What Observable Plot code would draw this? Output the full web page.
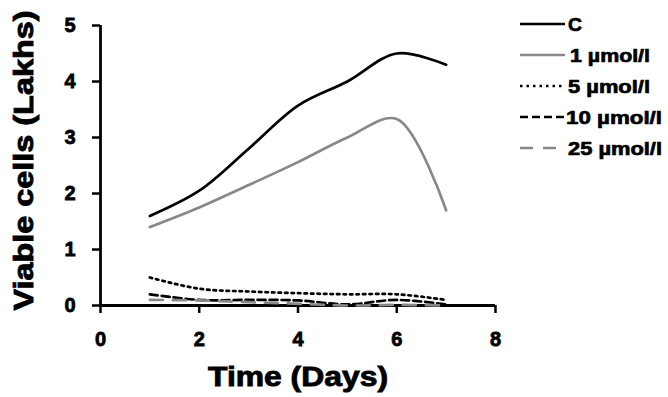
<!DOCTYPE html>
<html>
<head>
<meta charset="utf-8">
<script src="https://cdn.jsdelivr.net/npm/d3@7"></script>
<script src="https://cdn.jsdelivr.net/npm/@observablehq/plot@0.6"></script>
<style>
  html, body { margin: 0; padding: 0; background: #fff; }
  #chart { width: 668px; height: 397px; }
</style>
</head>
<body>
<div id="chart"></div>
<script>
const days = [1, 2, 3, 4, 5, 6, 7];
const seriesNames = ["C", "1 µmol/l", "5 µmol/l", "10 µmol/l", "25 µmol/l"];
const valC   = [1.6, 2.05, 2.8, 3.57, 4.0, 4.5, 4.3];
const val1   = [1.4, 1.75, 2.15, 2.56, 3.0, 3.33, 1.7];
const val5   = [0.5, 0.3, 0.25, 0.22, 0.2, 0.2, 0.1];
const val10  = [0.2, 0.1, 0.1, 0.09, 0.02, 0.1, 0.02];
const val25  = [0.1, 0.09, 0.06, 0.03, 0.0, 0.01, 0.0];
const xTicks = [0, 2, 4, 6, 8];
const yTicks = [0, 1, 2, 3, 4, 5];

const seriesValues = [valC, val1, val5, val10, val25];
const styles = [
  {stroke: "#000", dash: null},
  {stroke: "#888", dash: null},
  {stroke: "#000", dash: "2.5,4"},
  {stroke: "#000", dash: "8,4"},
  {stroke: "#888", dash: "13,10"}
];

const lineMarks = seriesValues.map((vals, i) => {
  const data = days.map((d, j) => ({day: d, v: vals[j]}));
  return Plot.lineY(data, {
    x: "day", y: "v", curve: "catmull-rom",
    stroke: styles[i].stroke, strokeWidth: 2.7,
    strokeDasharray: styles[i].dash || undefined
  });
});

const plot = Plot.plot({
  width: 668,
  height: 397,
  marginLeft: 100,
  marginRight: 173,
  marginTop: 25,
  marginBottom: 92,
  style: {fontFamily: "'Liberation Sans', Arial, sans-serif", background: "#fff"},
  x: {domain: [0, 8]},
  y: {domain: [0, 5]},
  marks: [
    Plot.axisX({ticks: xTicks, tickSize: 8, tickPadding: 18, fontSize: 20, fontWeight: "bold", strokeWidth: 2.5, label: null, tickFormat: d => String(d)}),
    Plot.axisY({ticks: yTicks, tickSize: 8, tickPadding: 17, fontSize: 20, fontWeight: "bold", strokeWidth: 2.5, label: null, tickFormat: d => String(d)}),
    Plot.ruleY([0], {x1: 0, x2: 8, stroke: "#000", strokeWidth: 2.8}),
    Plot.ruleX([0], {y1: 0, y2: 5, stroke: "#000", strokeWidth: 2.8}),
    ...lineMarks,
    Plot.text(["Time (Days)"], {frameAnchor: "bottom", dy: 80, fontSize: 28, fontWeight: "bold", fill: "#000"}),
    Plot.text(["Viable cells (Lakhs)"], {frameAnchor: "left", textAnchor: "middle", dx: -76, dy: -5, rotate: -90, fontSize: 28, fontWeight: "bold", fill: "#000"})
  ]
});

document.getElementById("chart").appendChild(plot);

// thicken tick labels and titles
const svg = d3.select(plot);
svg.selectAll("text").attr("stroke", "#000").attr("stroke-width", 0.8).attr("fill", "#000");
svg.selectAll("text").filter(function() { return this.textContent === "Time (Days)"; })
  .attr("textLength", 180).attr("lengthAdjust", "spacingAndGlyphs").attr("stroke-width", 0.9);
svg.selectAll("text").filter(function() { return this.textContent === "Viable cells (Lakhs)"; })
  .attr("textLength", 300).attr("lengthAdjust", "spacingAndGlyphs").attr("stroke-width", 0.9);

// legend
const legend = svg.append("g").attr("font-family", "'Liberation Sans', Arial, sans-serif").attr("text-anchor", "start");
const rowY = [24, 55, 86, 117, 148];
const labelX = [568, 570, 568, 566, 568];
const labelW = [14, 80, 82, 96, 94];
seriesNames.forEach((name, i) => {
  const y = rowY[i];
  const st = styles[i];
  legend.append("line")
    .attr("x1", 520).attr("x2", i === 4 ? 557 : 565).attr("y1", y).attr("y2", y)
    .attr("stroke", st.stroke).attr("stroke-width", 2.7)
    .attr("stroke-dasharray", st.dash);
  legend.append("text")
    .attr("x", labelX[i]).attr("y", y).attr("dy", "0.36em")
    .attr("text-anchor", "start")
    .attr("font-size", 19).attr("font-weight", "bold")
    .attr("textLength", labelW[i]).attr("lengthAdjust", "spacingAndGlyphs")
    .attr("fill", "#000").attr("stroke", "#000").attr("stroke-width", 0.7)
    .text(name);
});
</script>
</body>
</html>
